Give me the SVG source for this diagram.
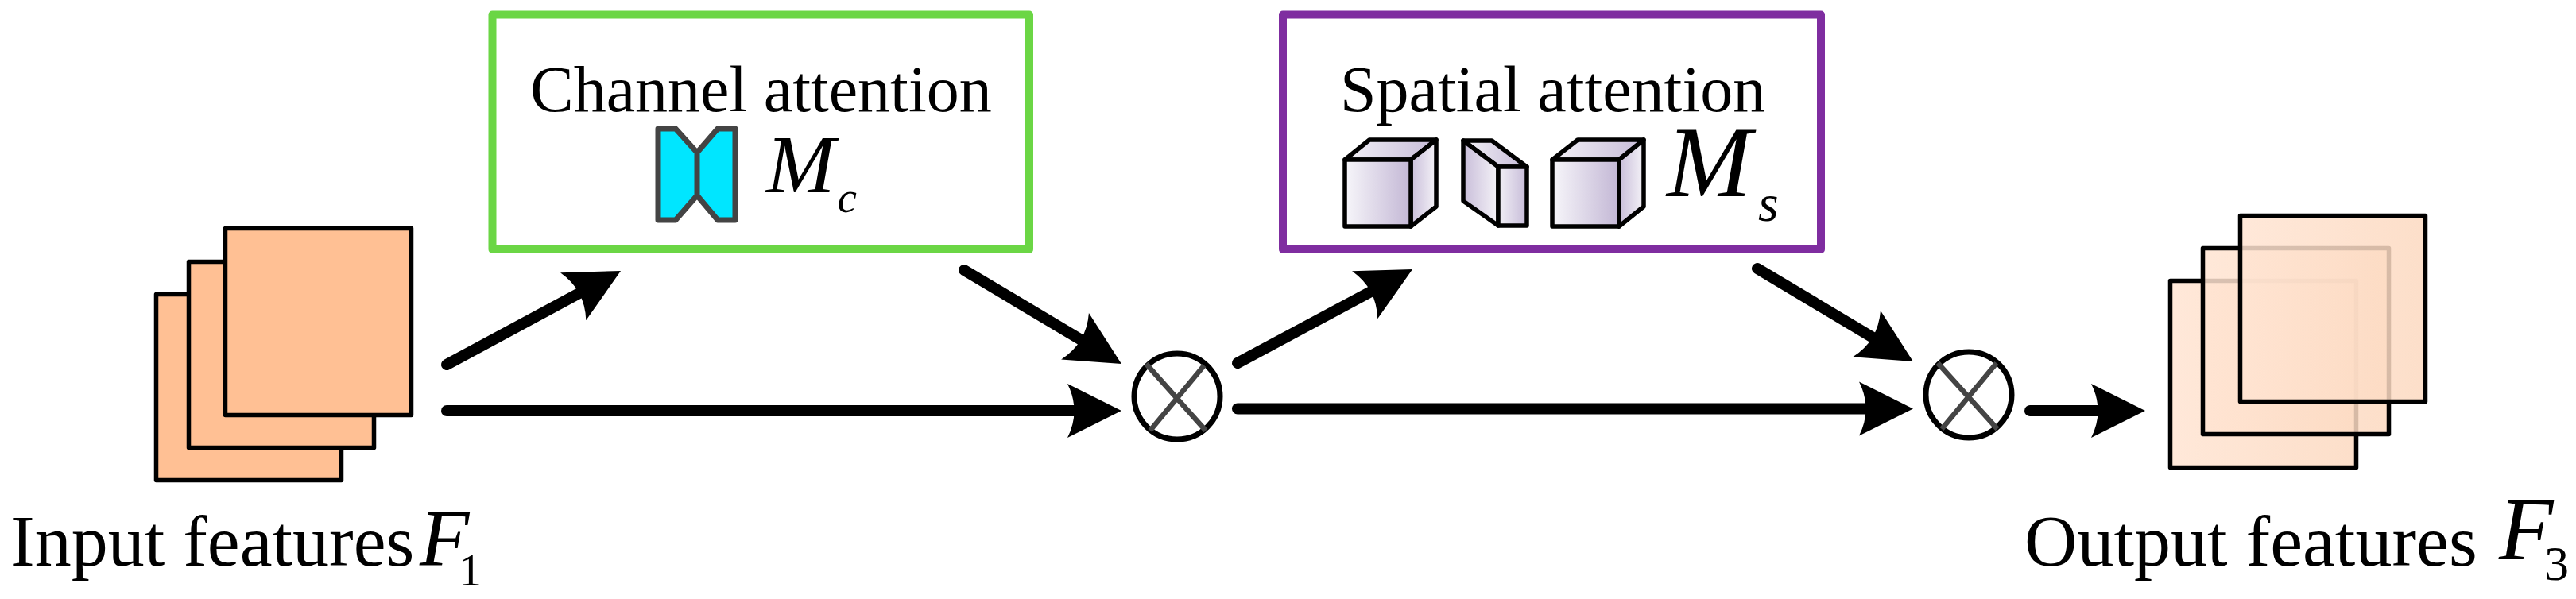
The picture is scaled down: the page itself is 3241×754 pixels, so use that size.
<svg xmlns="http://www.w3.org/2000/svg" width="3241" height="754" viewBox="0 0 3241 754">
<style>
text{font-family:"Liberation Serif","Times New Roman",serif;fill:#000}
.i{font-style:italic}
.box{fill:#fff;stroke-width:10;stroke-linejoin:round}
.in{fill:#ffc094;stroke:#000;stroke-width:5.500;stroke-linejoin:round}
.out{fill:url(#og);stroke:#000;stroke-width:5.500;stroke-linejoin:round}
.cube{stroke:#000;stroke-width:5.500;stroke-linejoin:round}
.f{fill:url(#cg)}.t{fill:url(#tg)}.r{fill:url(#cr)}
.op{fill:#fff;stroke:#000;stroke-width:7}
.x{stroke:#444;stroke-width:6.500;fill:none}
.c{fill:none;stroke:#000;stroke-width:14;stroke-linecap:round;marker-end:url(#ah)}
</style>
<defs>
<marker id="ah" markerUnits="userSpaceOnUse" markerWidth="68" markerHeight="68" viewBox="0 0 68 68" refX="18" refY="34" orient="auto" overflow="visible"><path d="M0,0L68,34L0,68Q17,34 0,0Z" fill="#000"/></marker>
<linearGradient id="og" x1="0" x2="1" y1="0" y2="0"><stop offset="0" stop-color="#ffe4d2" stop-opacity=".85"/><stop offset="1" stop-color="#fcd9c0" stop-opacity=".85"/></linearGradient>
<linearGradient id="cg" x1="0" x2="1" y1="0" y2="0"><stop offset="0" stop-color="#f7f6fa"/><stop offset="1" stop-color="#c3b7d5"/></linearGradient>
<linearGradient id="tg" x1="0" x2="1" y1="0" y2="0"><stop offset="0" stop-color="#f2f0f6"/><stop offset="1" stop-color="#c6bbd8"/></linearGradient>
<linearGradient id="cr" x1="0" x2="1" y1="0" y2="0"><stop offset="0" stop-color="#c8bdd9"/><stop offset="1" stop-color="#f5f3f8"/></linearGradient>
</defs>
<rect width="3241" height="754" fill="#fff"/>
<g id="input-features">
<rect class="in" x="196.500" y="370.500" width="233" height="234"/>
<rect class="in" x="237.500" y="329.500" width="233" height="234"/>
<rect class="in" x="283.500" y="287.500" width="234" height="235"/>
<text x="13" y="712" font-size="92">Input features<tspan class="i" x="528" font-size="102">F</tspan><tspan x="577" y="737" font-size="58">1</tspan></text>
</g>
<g id="channel-attention">
<rect class="box" x="619.500" y="18.500" width="675.500" height="295.500" stroke="#6bd645"/>
<text x="667" y="140" font-size="82">Channel attention</text>
<path d="M828,162H850L877,192L903,162H925V277H903L877,246L850,277H828ZM877,192V246" fill="#00e6ff" stroke="#444" stroke-width="7" stroke-linejoin="round"/>
<text class="i" x="964" y="242" font-size="104">M<tspan x="1053.500" y="267" font-size="55">c</tspan></text>
</g>
<g id="multiply-1">
<circle class="op" cx="1481" cy="499" r="54"/>
<path class="x" d="M1442,458L1517,542M1515,460L1447,542"/>
</g>
<g id="spatial-attention">
<rect class="box" x="1614" y="18.500" width="677" height="295.500" stroke="#7f2da0"/>
<text x="1686" y="140" font-size="82">Spatial attention</text>
<g class="cube"><path class="t" d="M1692,201L1723,176H1807L1775,201Z"/><path class="r" d="M1775,201L1807,176V260L1775,285Z"/><rect class="f" x="1692" y="201" width="83" height="84"/></g>
<g class="cube"><path class="t" d="M1841,177H1877L1921,210H1885Z"/><path class="r" d="M1841,177L1885,210V284L1841,253Z"/><rect x="1885" y="210" width="36" height="74" fill="url(#tg)"/></g>
<g class="cube"><path class="t" d="M1953,201L1985,176H2068L2037,201Z"/><path class="r" d="M2037,201L2068,176V260L2037,285Z"/><rect class="f" x="1953" y="201" width="84" height="84"/></g>
<text class="i" x="2097" y="247" font-size="128">M<tspan x="2212" y="278" font-size="66">s</tspan></text>
</g>
<g id="multiply-2">
<circle class="op" cx="2477" cy="497" r="54"/>
<path class="x" d="M2438,457L2513,540M2512,457L2443,540"/>
</g>
<g id="output-features">
<rect class="out" x="2730.500" y="353.500" width="234" height="235"/>
<rect class="out" x="2771.500" y="312.500" width="234" height="234"/>
<rect class="out" x="2818.500" y="271.500" width="233" height="234"/>
<text x="2547" y="712" font-size="92">Output features<tspan class="i" x="3144" y="704" font-size="112">F</tspan><tspan x="3201" y="730" font-size="62">3</tspan></text>
</g>
<g id="connectors">
<path class="c" d="M562,459L737,364.700"/>
<path class="c" d="M562,517L1361,517"/>
<path class="c" d="M1213,340L1368,432.400"/>
<path class="c" d="M1557,457L1733,362.700"/>
<path class="c" d="M1557,514.500L2357,514.500"/>
<path class="c" d="M2211,338L2364,429.400"/>
<path class="c" d="M2554,517L2649,517"/>
</g>
</svg>
